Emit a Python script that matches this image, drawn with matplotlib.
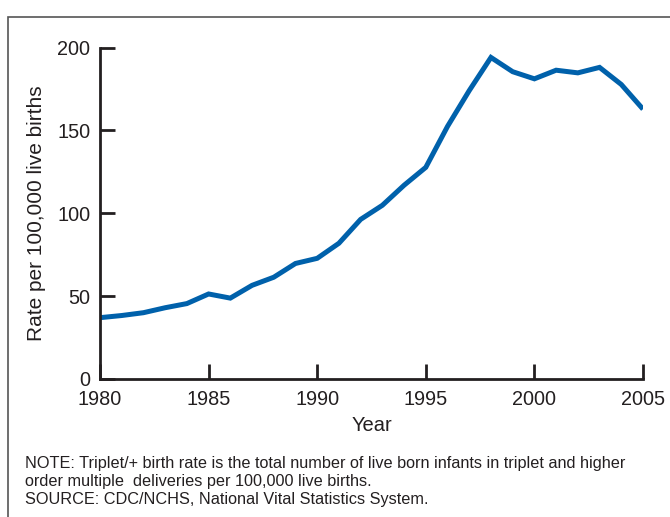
import matplotlib
matplotlib.use("Agg")
import matplotlib.pyplot as plt
from matplotlib.patches import Rectangle

# triplet/+ birth rate per 100,000 live births
years = list(range(1980, 2006))
rate = [37.0, 38.3, 40.0, 43.0, 45.5, 51.3, 48.8, 56.5, 61.4, 69.7,
        72.8, 81.9, 96.3, 104.8, 116.9, 127.7, 152.4, 174.0, 194.0, 185.4,
        181.1, 186.3, 184.7, 188.0, 177.7, 162.8]
xticks = [1980, 1985, 1990, 1995, 2000, 2005]
yticks = [0, 50, 100, 150, 200]

note_lines = [
    "NOTE: Triplet/+ birth rate is the total number of live born infants in triplet and higher",
    "order multiple  deliveries per 100,000 live births.",
    "SOURCE: CDC/NCHS, National Vital Statistics System.",
]

plt.rcParams['font.family'] = ['Liberation Sans', 'DejaVu Sans']

line_col = '#0061ab'
ink = '#231f20'

fig = plt.figure(figsize=(6.7, 5.17), dpi=100)
W, H = 670, 517

# outer frame (runs off right and bottom edges)
fig.patches.append(Rectangle((7.5 / W, -0.1), 1.2, 1.1 - 16.5 / H,
                             transform=fig.transFigure, fill=False,
                             ec='#555555', lw=1.2))

ax = fig.add_axes([100 / W, 1 - 379 / H, 543 / W, (379 - 47.5) / H])
ax.plot(years, rate, color=line_col, lw=3.6, solid_joinstyle='miter',
        solid_capstyle='butt')

ax.set_xlim(1980, 2005)
ax.set_ylim(0, 200)
ax.set_xticks(xticks)
ax.set_yticks(yticks)
for s in ['top', 'right']:
    ax.spines[s].set_visible(False)
for s in ['left', 'bottom']:
    ax.spines[s].set_linewidth(2.0)
    ax.spines[s].set_color(ink)
    ax.spines[s].set_capstyle('projecting')
ax.tick_params(direction='in', length=11, width=2.0, color=ink,
               labelsize=14.3, labelcolor=ink)
ax.tick_params(axis='x', pad=8)
ax.tick_params(axis='y', pad=7)

ax.set_xlabel('Year', fontsize=14.5, color=ink, labelpad=5)
ax.set_ylabel('Rate per 100,000 live births', fontsize=15, color=ink,
              labelpad=8)

for i, line in enumerate(note_lines):
    fig.text(25 / W, 1 - (468 + 18 * i) / H, line, fontsize=11.7,
             color=ink, ha='left', va='baseline')

fig.savefig('out.png', dpi=100)
